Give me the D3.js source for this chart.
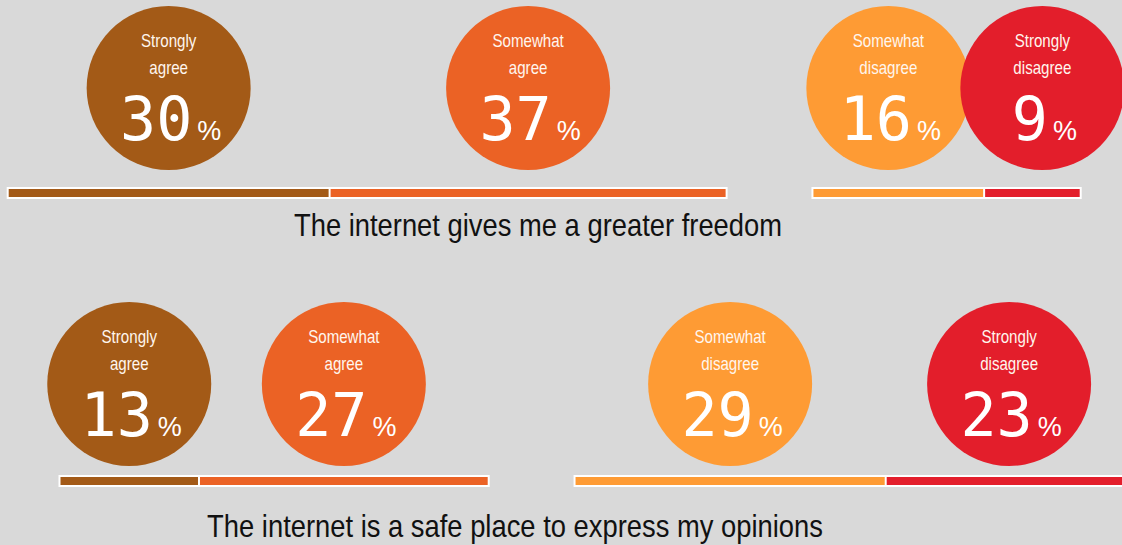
<!DOCTYPE html>
<html>
<head>
<meta charset="utf-8">
<script src="https://cdn.jsdelivr.net/npm/d3@7"></script>
<style>
	body{ margin:0; background:#d9d9d9; overflow:hidden; }
	svg{ display:block; }
</style>
</head>
<body>
<div id="chart"></div>
<script>
// survey data
var statements = ["The internet gives me a greater freedom", "The internet is a safe place to express my opinions"];
var categories = ["Strongly agree", "Somewhat agree", "Somewhat disagree", "Strongly disagree"];
var labelLines = [["Strongly", "agree"], ["Somewhat", "agree"], ["Somewhat", "disagree"], ["Strongly", "disagree"]];
var freedomValues = [30, 37, 16, 9];
var opinionValues = [13, 27, 29, 23];
var noAnswer = [8, 8]; // not shown, leaves the gap between agree and disagree
var colors = ["#a35a17", "#eb6225", "#fe9b34", "#e31e2b"];

var width = 1122, height = 545;
// no narrow face installed, so squeeze Liberation Sans
var sans = "'Liberation Sans', Arial, sans-serif";
var squeeze = "scale(0.84,1)";

var rows = [
	{values: freedomValues, gap: noAnswer[0], x0: 7.7, barY: 189, cy: 88, titleX: 538, titleY: 236},
	{values: opinionValues, gap: noAnswer[1], x0: 59.5, barY: 477, cy: 384, titleX: 515, titleY: 537}
];

var svg = d3.select("#chart")
	.append("svg")
	.attr("width", width)
	.attr("height", height);

svg.append("rect")
	.attr("width", width)
	.attr("height", height)
	.attr("fill", "#d9d9d9");

var r = 82, barH = 8, minDist = 154;

rows.forEach(function(row, ri){
	var x = d3.scaleLinear()
		.domain([0, 100])
		.range([row.x0, row.x0 + 1073]);

	// stacked segments, with the no-answer gap after the agree pair
	var segs = [], cum = 0;
	row.values.forEach(function(v, i){
		if(i == 2) cum += row.gap;
		segs.push({i: i, v: v, start: cum, end: cum + v});
		cum += v;
	});

	var g = svg.append("g");

	// white frame round each side
	[[segs[0], segs[1]], [segs[2], segs[3]]].forEach(function(pair){
		g.append("rect")
			.attr("x", x(pair[0].start) - 1)
			.attr("y", row.barY - 2)
			.attr("width", x(pair[1].end) - x(pair[0].start) + 2)
			.attr("height", barH + 4)
			.attr("fill", "#ffffff");
	});

	g.selectAll(".bar")
		.data(segs)
		.enter()
		.append("rect")
		.attr("x", function(d){ return x(d.start) + 1; })
		.attr("y", row.barY)
		.attr("width", function(d){ return x(d.end) - x(d.start) - 2; })
		.attr("height", barH)
		.attr("fill", function(d){ return colors[d.i]; });

	// bubble centres over the bars, pushed apart when they crowd
	segs.forEach(function(d){ d.cx = (x(d.start) + x(d.end)) / 2; });
	[[0, 1], [2, 3]].forEach(function(p){
		var a = segs[p[0]], b = segs[p[1]];
		var dd = b.cx - a.cx;
		if(dd < minDist){
			a.cx -= (minDist - dd) / 2;
			b.cx += (minDist - dd) / 2;
		}
	});

	var bubble = g.selectAll(".bubble")
		.data(segs)
		.enter()
		.append("g")
		.attr("transform", function(d){ return "translate(" + d.cx + "," + row.cy + ")"; });

	bubble.append("circle")
		.attr("r", r)
		.attr("fill", function(d){ return colors[d.i]; });

	bubble.append("text")
		.attr("text-anchor", "middle")
		.attr("y", -41)
		.attr("transform", squeeze)
		.attr("font-family", sans)
		.attr("font-size", 18)
		.attr("fill", "#fff6ee")
		.text(function(d){ return labelLines[d.i][0]; });

	bubble.append("text")
		.attr("text-anchor", "middle")
		.attr("y", -14)
		.attr("transform", squeeze)
		.attr("font-family", sans)
		.attr("font-size", 18)
		.attr("fill", "#fff6ee")
		.text(function(d){ return labelLines[d.i][1]; });

	var num = bubble.append("text")
		.attr("text-anchor", "middle")
		.attr("x", 2)
		.attr("y", 52)
		.attr("fill", "#ffffff");
	num.append("tspan")
		.attr("font-family", "'DejaVu Sans Mono', monospace")
		.attr("font-size", 60)
		.text(function(d){ return d.v; });
	num.append("tspan")
		.attr("dx", 5)
		.attr("font-family", sans)
		.attr("font-size", 27)
		.text("%");

	svg.append("g")
		.attr("transform", "translate(" + row.titleX + "," + row.titleY + ")")
		.append("text")
		.attr("text-anchor", "middle")
		.attr("transform", "scale(0.855,1)")
		.attr("font-family", sans)
		.attr("font-size", 32)
		.attr("fill", "#111111")
		.text(statements[ri]);
});
</script>
</body>
</html>
